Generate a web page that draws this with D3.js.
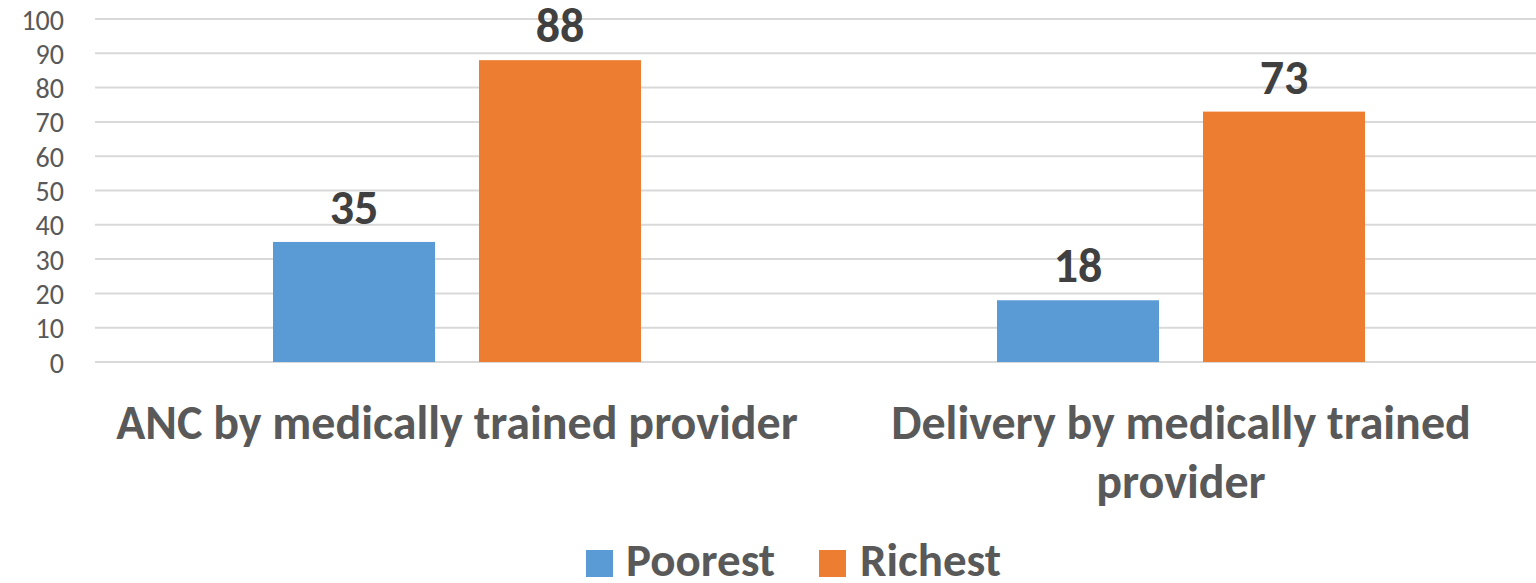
<!DOCTYPE html>
<html><head><meta charset="utf-8">
<script src="https://cdn.jsdelivr.net/npm/d3@7"></script>
<style>body{margin:0;background:#fff;}svg{display:block;}</style>
</head><body>
<svg id="c" width="1536" height="583"></svg>
<script>
const categories = [["ANC by medically trained provider"], ["Delivery by medically trained", "provider"]];
const seriesNames = ["Poorest", "Richest"];
const poorest = [35, 18];
const richest = [88, 73];
const yTicks = [0,10,20,30,40,50,60,70,80,90,100];
const colors = ["#5B9BD5", "#ED7D31"];
const font = "Carlito, Calibri, Lato, sans-serif";

const svg = d3.select("#c");
const x0 = d3.scaleBand().domain([0,1]).range([95, 1543]).paddingInner(0).paddingOuter(0);
const x1 = d3.scaleBand().domain(seriesNames).range([178, 546]).paddingInner(0.2136).paddingOuter(0);
const y = d3.scaleLinear().domain([0,100]).range([362, 19]);

// gridlines
svg.append("g").selectAll("line").data(yTicks).join("line")
  .attr("x1", 95).attr("x2", 1536)
  .attr("y1", d => y(d)).attr("y2", d => y(d))
  .attr("stroke", "#d9d9d9").attr("stroke-width", 2);

// y axis labels
const yAxis = d3.axisLeft(y).tickValues(yTicks).tickSize(0).tickPadding(0);
const ga = svg.append("g").attr("transform", "translate(64,0)").call(yAxis);
ga.select(".domain").remove();
ga.selectAll("text").attr("font-family", font).attr("font-size", 28).attr("fill", "#595959").attr("dy", "0.36em");

const data = [poorest, richest];
const g = svg.append("g");
seriesNames.forEach((s, si) => {
  data[si].forEach((v, ci) => {
    const bx = x0(ci) + x1(s);
    g.append("rect").attr("x", bx).attr("width", x1.bandwidth())
      .attr("y", y(v)).attr("height", y(0) - y(v)).attr("fill", colors[si]);
    g.append("text").attr("x", bx + x1.bandwidth()/2).attr("y", y(v) - 18)
      .attr("text-anchor", "middle").attr("font-family", font).attr("font-weight", "bold")
      .attr("font-size", 48).attr("fill", "#404040").text(v);
  });
});

// category labels
categories.forEach((lines, ci) => {
  const t = svg.append("text").attr("text-anchor", "middle").attr("font-family", font)
    .attr("font-weight", "bold").attr("font-size", 48).attr("fill", "#595959");
  lines.forEach((ln, li) => {
    t.append("tspan").attr("x", x0(ci) + x0.bandwidth()/2).attr("y", 439 + li*59).text(ln);
  });
});

// legend
const legend = [{x:586, tx:626}, {x:819, tx:860}];
seriesNames.forEach((s, i) => {
  svg.append("rect").attr("x", legend[i].x).attr("y", 550).attr("width", 27).attr("height", 27).attr("fill", colors[i]);
  svg.append("text").attr("x", legend[i].tx).attr("y", 576).attr("font-family", font)
    .attr("font-weight", "bold").attr("font-size", 47).attr("fill", "#595959").text(s);
});
</script>
</body></html>
